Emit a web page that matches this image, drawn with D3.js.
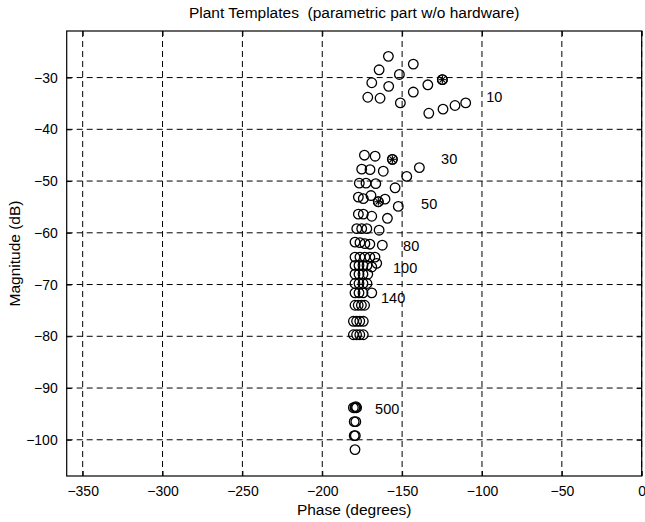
<!DOCTYPE html>
<html>
<head>
<meta charset="utf-8">
<script src="https://cdn.jsdelivr.net/npm/d3@7"></script>
<style>
  html, body { margin: 0; padding: 0; background: #fff; }
  svg { display: block; }
  text { font-family: "Liberation Sans", Arial, Helvetica, sans-serif; fill: #000; }
</style>
</head>
<body>
<svg id="chart" width="645" height="522"></svg>
<script>
// ---------------- DATA ----------------
const titleText = "Plant Templates  (parametric part w/o hardware)";
const xLabel = "Phase (degrees)";
const yLabel = "Magnitude (dB)";
const xTicks = [-350, -300, -250, -200, -150, -100, -50, 0];
const yTicks = [-30, -40, -50, -60, -70, -80, -90, -100];
const xDomain = [-360, 0];
const yDomain = [-107, -21];

// template at 10 rad/s
const phase10 = [-158.6, -143.0, -164.4, -151.7, -169.0, -158.4, -133.9, -124.8, -171.5, -163.8, -143.0, -151.1, -133.3, -124.4, -116.9, -110.2];
const mag10   = [-25.9, -27.4, -28.5, -29.4, -31.0, -31.7, -31.4, -30.4, -33.8, -34.0, -32.8, -34.9, -36.9, -36.1, -35.4, -34.9];
// template at 30 rad/s
const phase30 = [-173.6, -166.9, -156.1, -175.3, -170.1, -161.8, -139.2, -147.1, -176.8, -172.6, -166.5, -154.4];
const mag30   = [-45.0, -45.2, -45.8, -47.7, -47.8, -48.1, -47.4, -49.1, -50.4, -50.4, -50.5, -51.3];
// template at 50 rad/s
const phase50 = [-177.4, -174.3, -169.5, -164.9, -160.7, -152.4, -177.4, -174.3, -169.0, -159.2, -178.4, -175.3, -172.1, -164.4];
const mag50   = [-53.1, -53.4, -52.8, -54.0, -53.5, -54.9, -56.4, -56.4, -56.8, -57.2, -59.2, -59.2, -59.2, -59.5];
// template at 80 rad/s
const phase80 = [-179.5, -176.4, -173.3, -170.2, -162.4, -179.5, -176.4, -173.3, -170.2, -167.0, -165.9];
const mag80   = [-61.8, -61.9, -62.1, -62.2, -62.4, -64.7, -64.7, -64.7, -64.7, -64.7, -65.9];
// template at 100 rad/s
const phase100 = [-179.5, -177.0, -174.5, -172.0, -169.0, -179.5, -177.0, -174.5, -171.5];
const mag100   = [-66.3, -66.3, -66.3, -66.3, -66.6, -68.0, -68.0, -68.0, -68.0];
// template at 140 rad/s
const phase140 = [-179.5, -177.0, -174.5, -172.0, -179.5, -177.0, -174.5, -169.0, -179.5, -177.5, -175.5, -173.5, -180.5, -178.5, -176.5, -174.3, -180.5, -178.5, -176.5, -174.3];
const mag140   = [-69.8, -69.8, -69.8, -69.8, -71.6, -71.6, -71.6, -71.6, -74.0, -74.0, -74.0, -74.0, -77.1, -77.1, -77.1, -77.1, -79.7, -79.7, -79.7, -79.7];
// template at 500 rad/s
const phase500 = [-180.5, -179.5, -178.5, -179.0, -180.0, -179.0, -180.0, -179.3, -179.5];
const mag500   = [-93.8, -93.8, -93.8, -93.6, -96.5, -96.5, -99.2, -99.2, -101.9];

// nominal plant points (circle with asterisk)
const nominalPhase = [-124.8, -156.1, -164.9];
const nominalMag   = [-30.4, -45.8, -54.0];

// template labels (data coordinates, left/middle anchored)
const labelText  = ["10", "30", "50", "80", "100", "140", "500"];
const labelPhase = [-97.4, -125.6, -138.1, -149.4, -155.7, -163.2, -166.9];
const labelMag   = [-33.7, -45.8, -54.5, -62.6, -66.8, -72.6, -94.0];

// ---------------- CHART ----------------
const W = 645, H = 522;
const plot = { left: 66.7, right: 641.7, top: 31, bottom: 476 };
const svg = d3.select("#chart");

const x = d3.scaleLinear().domain(xDomain).range([plot.left, plot.right]);
const y = d3.scaleLinear().domain(yDomain).range([plot.bottom, plot.top]);

const allPhase = [].concat(phase10, phase30, phase50, phase80, phase100, phase140, phase500);
const allMag   = [].concat(mag10, mag30, mag50, mag80, mag100, mag140, mag500);
const points = allPhase.map((p, i) => ({ p, m: allMag[i] }));

// grid
const grid = svg.append("g").attr("stroke", "#000").attr("stroke-width", 1)
  .attr("stroke-dasharray", "6,4").attr("fill", "none");
xTicks.forEach(t => {
  grid.append("line").attr("x1", x(t)).attr("x2", x(t))
    .attr("y1", plot.top).attr("y2", plot.bottom);
});
yTicks.forEach(t => {
  grid.append("line").attr("x1", plot.left).attr("x2", plot.right)
    .attr("y1", y(t)).attr("y2", y(t));
});

// axes (ticks inward)
const tl = 5;
const xAxisB = d3.axisBottom(x).tickValues(xTicks).tickSizeInner(-tl).tickSizeOuter(0).tickPadding(10).tickFormat(d3.format("d"));
const xAxisT = d3.axisTop(x).tickValues(xTicks).tickSizeInner(-tl).tickSizeOuter(0).tickFormat("");
const yAxisL = d3.axisLeft(y).tickValues(yTicks).tickSizeInner(-tl).tickSizeOuter(0).tickPadding(9).tickFormat(d3.format("d"));
const yAxisR = d3.axisRight(y).tickValues(yTicks).tickSizeInner(-tl).tickSizeOuter(0).tickFormat("");

function styleAxis(g) {
  g.select(".domain").remove();
  g.selectAll(".tick line").attr("stroke", "#000").attr("stroke-width", 1);
  g.selectAll("text").attr("font-size", 14).attr("fill", "#000")
    .attr("font-family", "'Liberation Sans', Arial, sans-serif");
}
svg.append("g").attr("transform", `translate(0,${plot.bottom})`).call(xAxisB).call(styleAxis);
svg.append("g").attr("transform", `translate(0,${plot.top})`).call(xAxisT).call(styleAxis);
svg.append("g").attr("transform", `translate(${plot.left},0)`).call(yAxisL).call(styleAxis);
svg.append("g").attr("transform", `translate(${plot.right},0)`).call(yAxisR).call(styleAxis);

// frame
svg.append("rect").attr("x", plot.left).attr("y", plot.top)
  .attr("width", plot.right - plot.left).attr("height", plot.bottom - plot.top)
  .attr("fill", "none").attr("stroke", "#000").attr("stroke-width", 1.2);

// markers
const r = 4.8;
svg.append("g").selectAll("circle").data(points).join("circle")
  .attr("cx", d => x(d.p)).attr("cy", d => y(d.m)).attr("r", r)
  .attr("fill", "none").attr("stroke", "#000").attr("stroke-width", 1.3);

// nominal markers: circle + asterisk
const nom = nominalPhase.map((p, i) => ({ p, m: nominalMag[i] }));
const ng = svg.append("g").attr("stroke", "#000").attr("fill", "none");
nom.forEach(d => {
  const cx = x(d.p), cy = y(d.m), a = r - 1;
  ng.append("circle").attr("cx", cx).attr("cy", cy).attr("r", r).attr("stroke-width", 1.3);
  [[0, 1], [1, 0], [0.707, 0.707], [0.707, -0.707]].forEach(([dx, dy]) => {
    ng.append("line").attr("x1", cx - dx * a).attr("y1", cy - dy * a)
      .attr("x2", cx + dx * a).attr("y2", cy + dy * a).attr("stroke-width", 1.1);
  });
});

// template labels
svg.append("g").selectAll("text").data(labelText).join("text")
  .attr("x", (d, i) => x(labelPhase[i])).attr("y", (d, i) => y(labelMag[i]))
  .attr("dy", "0.35em").attr("font-size", 14.5).text(d => d);

// titles
svg.append("text").attr("x", (plot.left + plot.right) / 2).attr("y", 18)
  .attr("text-anchor", "middle").attr("font-size", 15.5)
  .style("white-space", "pre").attr("xml:space", "preserve").text(titleText);
svg.append("text").attr("x", (plot.left + plot.right) / 2).attr("y", 515)
  .attr("text-anchor", "middle").attr("font-size", 15.5).text(xLabel);
svg.append("text").attr("transform", `translate(20,${(plot.top + plot.bottom) / 2}) rotate(-90)`)
  .attr("text-anchor", "middle").attr("font-size", 15.5).text(yLabel);
</script>
</body>
</html>
